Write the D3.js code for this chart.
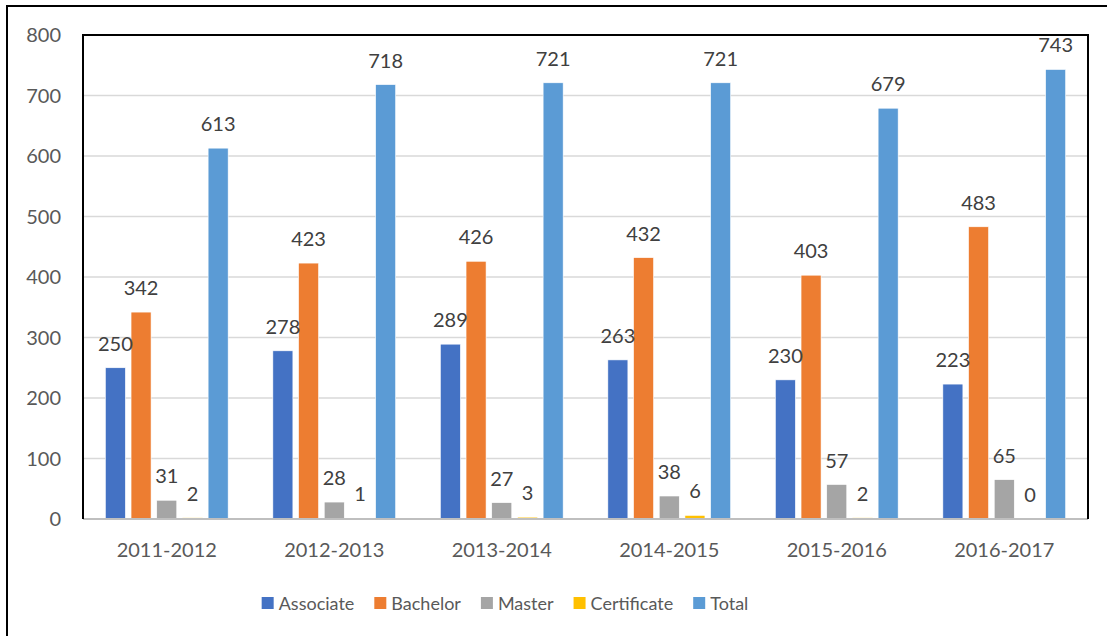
<!DOCTYPE html>
<html>
<head>
<meta charset="utf-8">
<script src="https://cdn.jsdelivr.net/npm/d3@7"></script>
<style>
  body { margin: 0; background: #fff; }
  svg { display: block; font-family: Lato, "Open Sans", sans-serif; }
</style>
</head>
<body>
<svg width="1107" height="636"></svg>
<script>
const years = ['2011-2012', '2012-2013', '2013-2014', '2014-2015', '2015-2016', '2016-2017'];
const seriesNames = ['Associate', 'Bachelor', 'Master', 'Certificate', 'Total'];
const associate = [250, 278, 289, 263, 230, 223];
const bachelor = [342, 423, 426, 432, 403, 483];
const master = [31, 28, 27, 38, 57, 65];
const certificate = [2, 1, 3, 6, 2, 0];
const total = [613, 718, 721, 721, 679, 743];
const yTicks = [0, 100, 200, 300, 400, 500, 600, 700, 800];

const colors = ['#4472C4', '#ED7D31', '#A5A5A5', '#FFC000', '#5B9BD5'];
const values = [associate, bachelor, master, certificate, total];

const svg = d3.select('svg');

// outer chart frame (only left and top edges are visible)
svg.append('rect')
    .attr('x', 7).attr('y', 6)
    .attr('width', 1120).attr('height', 660)
    .attr('fill', 'none')
    .attr('stroke', '#000')
    .attr('stroke-width', 2);

const plot = { left: 83, right: 1088, top: 35, bottom: 519 };

const x0 = d3.scaleBand()
    .domain(years)
    .range([plot.left, plot.right]);

const x1 = d3.scaleBand()
    .domain(seriesNames)
    .range([0, x0.bandwidth()])
    .paddingInner(0.22)
    .paddingOuter(0.87);

const y = d3.scaleLinear()
    .domain([0, 800])
    .range([plot.bottom, plot.top]);

// gridlines
svg.append('g')
    .selectAll('line')
    .data(yTicks.filter(d => d > 0))
    .enter().append('line')
    .attr('x1', plot.left).attr('x2', plot.right)
    .attr('y1', d => y(d)).attr('y2', d => y(d))
    .attr('stroke', '#d9d9d9')
    .attr('stroke-width', 1.5);

// y tick labels
svg.append('g')
    .selectAll('text')
    .data(yTicks)
    .enter().append('text')
    .attr('x', 61)
    .attr('y', d => y(d) + 7)
    .attr('text-anchor', 'end')
    .attr('fill', '#595959')
    .attr('font-size', 20)
    .text(d => d);

// bars
const groups = svg.append('g')
    .selectAll('g')
    .data(years)
    .enter().append('g')
    .attr('transform', d => `translate(${x0(d)},0)`);

groups.selectAll('rect')
    .data((d, i) => seriesNames.map((s, j) => ({ s: s, v: values[j][i], c: colors[j] })))
    .enter().append('rect')
    .attr('x', d => x1(d.s))
    .attr('width', x1.bandwidth())
    .attr('y', d => y(d.v))
    .attr('height', d => Math.max(0, y(0) - y(d.v)))
    .attr('fill', d => d.c)
    .attr('stroke', '#fff')
    .attr('stroke-width', 0.6);

groups.selectAll('text')
    .data((d, i) => seriesNames.map((s, j) => ({ s: s, v: values[j][i] })))
    .enter().append('text')
    .attr('x', d => x1(d.s) + x1.bandwidth() / 2)
    .attr('y', d => y(d.v) - 17)
    .attr('text-anchor', 'middle')
    .attr('fill', '#404040')
    .attr('font-size', 20)
    .text(d => d.v);

// x axis line
svg.append('line')
    .attr('x1', plot.left).attr('x2', plot.right)
    .attr('y1', plot.bottom).attr('y2', plot.bottom)
    .attr('stroke', '#bfbfbf')
    .attr('stroke-width', 2);

// plot box (left, top, right)
svg.append('path')
    .attr('d', `M${plot.left},${plot.bottom}V${plot.top}H${plot.right}V${plot.bottom}`)
    .attr('fill', 'none')
    .attr('stroke', '#000')
    .attr('stroke-width', 2);

// category labels
svg.append('g')
    .selectAll('text')
    .data(years)
    .enter().append('text')
    .attr('x', d => x0(d) + x0.bandwidth() / 2)
    .attr('y', 557)
    .attr('text-anchor', 'middle')
    .attr('fill', '#595959')
    .attr('font-size', 20)
    .text(d => d);

// legend
const legend = svg.append('g');
let lx = 0;
seriesNames.forEach((name, i) => {
    const item = legend.append('g').attr('transform', `translate(${lx},0)`);
    item.append('rect')
        .attr('x', 0).attr('y', -6)
        .attr('width', 12).attr('height', 12)
        .attr('fill', colors[i]);
    const t = item.append('text')
        .attr('x', 17).attr('y', 6.5)
        .attr('fill', '#595959')
        .attr('font-size', 18)
        .text(name);
    lx += 17 + t.node().getComputedTextLength() + 20;
});
const legendWidth = lx - 20;
legend.attr('transform', `translate(${505 - legendWidth / 2},603)`);
</script>
</body>
</html>
